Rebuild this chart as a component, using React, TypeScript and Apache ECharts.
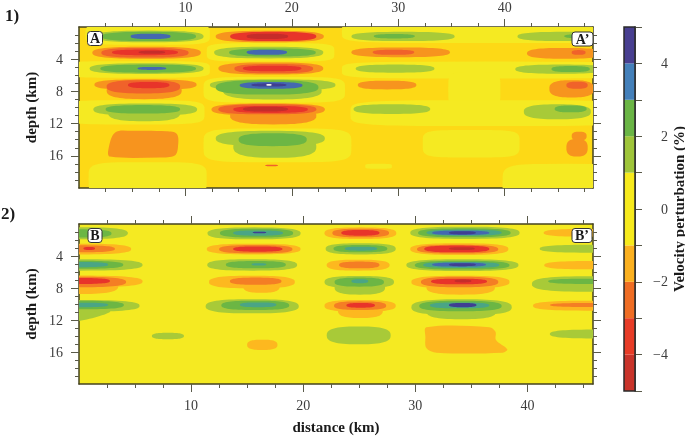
import React, { useEffect, useRef } from "react";
import * as echarts from "echarts";

// colour classes
const DR = 0, RE = 1, DO = 2, MO = 3, OR = 4, LO = 5, YE = 6, GO = 7, LI = 8, GR = 9, TE = 10, BL = 11, PU = 12, WH = 13;
const classColors = ["#c62c2a", "#e8342a", "#f0622a", "#f47e24", "#f7941e", "#fdb81f", "#f5ea22", "#fdd916", "#a8ca38", "#6cb644", "#4aa585", "#4468b0", "#3f3f92", "#f2f2f2"];

const xTicksMajor = [10, 20, 30, 40];
const depthTicksMajor = [4, 8, 12, 16];
const xTicksMinor1 = [2.5, 5, 7.5, 12.5, 15, 17.5, 22.5, 25, 27.5, 32.5, 35, 37.5, 42.5, 45, 47.5];
const xTicksMinor2 = [2.5, 5, 7.5, 12.5, 15, 17.5, 22.5, 25, 27.5, 32.5, 35, 37.5, 42.5, 45];
const depthTicksMinor = [1, 2, 3, 5, 6, 7, 9, 10, 11, 13, 14, 15, 17, 18, 19];
const xMax1 = 48.3;
const xMax2 = 45.85;

// rows: [kmFrom, kmTo, depthFrom, depthTo, class]
const section1Background = [
  [0.6, 12.3, -0.4, 2.2, YE],
  [-1.5, 12.3, 4.25, 6.3, YE],
  [-1.5, 11.8, 9.1, 12.1, YE],
  [0.9, 12, 16.8, 21, YE],
  [12, 24, 2, 4.3, YE],
  [11.7, 25, 6.2, 9.4, YE],
  [11.7, 25.6, 12.6, 16.8, YE],
  [24.7, 52, -0.8, 2.0, YE],
  [24.7, 52, 4.3, 6.4, YE],
  [34.7, 39.6, 5.6, 10, YE],
  [25.5, 52, 9.1, 12.3, YE],
  [32.3, 41.4, 12.8, 16.2, YE],
  [26.9, 29.4, 17, 17.6, YE],
  [39.8, 52, 17, 22, YE],
];
const section1Polygons: { cls: number; pts: number[][] }[] = [
  { cls: OR, pts: [[3.4, 13.1], [5.1, 12.9], [8.2, 12.96], [9.2, 13.3], [9.3, 14.9], [9.0, 15.96], [7.6, 16.2], [2.9, 16.1], [2.75, 15.3]] },
];
const section1Blobs = [
  // first column
  [1.4, 11.7, 0.45, 1.9, LI], [2.1, 11, 0.6, 1.75, GR], [4.85, 8.6, 0.83, 1.5, BL],
  [1.25, 11.45, 2.45, 3.95, OR], [2.1, 10.3, 2.6, 3.8, DO], [3.1, 9.3, 2.8, 3.5, RE], [5.6, 8.1, 2.95, 3.33, DR],
  [1, 11.7, 4.5, 5.83, LI], [2, 11, 4.67, 5.67, GR], [5.5, 8.2, 4.96, 5.33, BL],
  [2.6, 9.65, 6.8, 8.96, OR], [1.45, 11.05, 6.5, 7.83, OR], [2.6, 9.5, 6.6, 8.25, DO], [4.6, 8.5, 6.83, 7.6, RE],
  [2.75, 9.5, 9.7, 11.7, LI], [1.35, 11.1, 9.5, 11, LI], [2.5, 9.5, 9.7, 10.75, GR],
  // second column
  [12.85, 23, 0.46, 1.9, OR], [14.2, 22.3, 0.6, 1.75, RE], [15.75, 19.65, 0.83, 1.5, DR],
  [12.7, 22.95, 2.45, 3.9, LI], [14.1, 22.25, 2.67, 3.67, GR], [15.75, 19.55, 2.83, 3.46, BL],
  [13.1, 22.95, 4.4, 5.9, OR], [14.6, 22, 4.6, 5.75, DO], [15.4, 20.9, 4.8, 5.5, RE],
  [13.55, 22.8, 6.8, 9, LI], [12.3, 24.1, 6.5, 7.9, LI], [12.85, 22.5, 6.6, 8.4, GR], [15.1, 21, 6.83, 7.67, BL], [16.2, 19.5, 7, 7.4, PU], [17.6, 18.1, 7.08, 7.3, WH],
  [14.2, 22.3, 9.9, 12.1, OR], [12.45, 23.1, 9.5, 11, OR], [13.1, 22.3, 9.6, 10.85, DO], [14.5, 21.5, 9.8, 10.67, RE], [15.4, 19.65, 9.9, 10.5, DR],
  [14.5, 22.3, 13.5, 16.25, LI], [12.85, 23.1, 12.9, 14.8, LI], [15, 21.4, 13.2, 14.8, GR],
  [17.5, 18.7, 17.1, 17.3, DO],
  // third column
  [25.6, 35.3, 0.6, 1.75, LI], [27.7, 31.55, 0.87, 1.42, GR],
  [25.6, 34.85, 2.54, 3.75, OR], [27.6, 31.5, 2.83, 3.46, DO],
  [26, 33.4, 4.67, 5.67, LI],
  [26.2, 31.7, 6.67, 7.75, OR],
  [25.8, 33, 9.6, 10.8, LI],
  // fourth column
  [41.2, 50, 0.6, 1.75, LI], [45.6, 50, 0.87, 1.42, GR],
  [42.1, 49.2, 2.6, 3.95, OR], [46.3, 47.6, 2.87, 3.46, DO],
  [41, 49.6, 4.67, 5.8, LI], [44.4, 48, 4.85, 5.6, GR],
  [44.2, 48.4, 6.6, 8.75, OR], [45.8, 47.8, 6.8, 7.67, DO],
  [41.8, 48.1, 9.6, 11.46, LI], [44.7, 47.7, 9.75, 10.6, GR],
  [46.3, 47.7, 13, 14.1, OR], [45.8, 47.8, 13.9, 16.1, OR],
];

const section2Polygons: { cls: number; pts: number[][] }[] = [
  { cls: LI, pts: [[-1, 12.2], [2.8, 10.9], [-1, 10.3]] },
  { cls: LO, pts: [[30.99, 12.9], [36.6, 12.9], [37.15, 13.46], [37.2, 14.5], [38.2, 15.67], [37.8, 16.08], [31.9, 16.08], [31, 15.54], [30.9, 14.08]] },
];
const section2Blobs = [
  // first column
  [-4.35, 4.35, 0.4, 1.9, LI], [-2.9, 2.9, 0.67, 1.7, GR],
  [-4.65, 4.65, 2.46, 3.8, LO], [-3.2, 3.2, 2.67, 3.54, MO], [0.4, 1.43, 2.87, 3.25, RE],
  [-5.67, 5.67, 4.4, 5.83, LI], [-3.95, 3.95, 4.6, 5.6, GR], [-2.6, 2.6, 4.75, 5.4, TE],
  [-3.5, 3.5, 6.8, 8.75, LO], [-5.67, 5.67, 6.45, 7.9, LO], [-4.2, 4.2, 6.6, 7.9, MO], [-2.76, 2.76, 6.75, 7.5, RE],
  [-5.4, 5.4, 9.5, 10.96, LI], [-4, 4, 9.6, 10.67, GR], [-2.6, 2.6, 9.83, 10.4, TE],
  [6.5, 9.36, 13.6, 14.4, LI],
  [15, 17.7, 14.46, 15.75, LO],
  // second column
  [11.47, 19.76, 0.42, 1.92, LI], [12.57, 19.1, 0.58, 1.7, GR], [13.75, 18.2, 0.8, 1.46, TE], [15.5, 16.7, 0.96, 1.17, PU],
  [11.4, 19.76, 2.46, 3.8, LO], [12.5, 19.04, 2.63, 3.67, MO], [13.75, 18.15, 2.8, 3.46, RE],
  [11.44, 19.46, 4.4, 5.83, LI], [13.1, 18.45, 4.63, 5.54, GR], [15.4, 16.7, 4.9, 5.2, TE],
  [14.65, 17.9, 7, 8.6, LO], [11.6, 19.25, 6.46, 8.04, LO], [13.46, 18.06, 6.7, 7.6, MO],
  [11.3, 19.6, 9.4, 11.17, LI], [12.7, 18.75, 9.58, 10.75, GR], [14.35, 17.6, 9.8, 10.4, TE],
  // third column
  [21.9, 28.3, 0.42, 1.87, LO], [22.6, 27.66, 0.58, 1.67, MO], [23.4, 26.8, 0.75, 1.46, RE],
  [22, 28.25, 2.4, 3.8, LI], [22.7, 27.5, 2.63, 3.54, GR], [23.7, 26.6, 2.83, 3.33, TE],
  [22.1, 27.7, 4.46, 5.83, LO], [23.2, 26.8, 4.7, 5.54, MO],
  [22.8, 27.3, 7, 8.83, LI], [21.9, 28.1, 6.5, 8, LI], [22.8, 27.2, 6.7, 7.83, GR], [24.3, 25.8, 6.9, 7.4, TE],
  [23.1, 27.1, 9.9, 11.75, LO], [21.9, 28.25, 9.5, 10.96, LO], [22.75, 27.4, 9.67, 10.75, MO], [23.85, 26.4, 9.87, 10.46, RE],
  [22.1, 27.8, 12.8, 15.04, LI],
  // fourth column
  [29.55, 39.3, 0.33, 1.87, LI], [30.25, 38.5, 0.54, 1.67, GR], [31, 37.7, 0.7, 1.46, TE], [31.5, 36.6, 0.83, 1.37, BL], [33, 35.4, 0.9, 1.3, PU],
  [29.55, 38.3, 2.4, 3.87, LO], [30.15, 37.4, 2.6, 3.7, MO], [30.8, 36.6, 2.7, 3.54, RE], [33, 35.3, 2.9, 3.25, DR],
  [29.2, 39.2, 4.4, 5.87, LI], [29.95, 38.4, 4.6, 5.7, GR], [30.7, 37.5, 4.75, 5.5, TE], [31.5, 36.3, 4.83, 5.33, BL], [33, 35.4, 4.9, 5.27, PU],
  [31, 37.1, 7, 8.83, LO], [29.65, 38.4, 6.46, 8.04, LO], [30.5, 37.4, 6.6, 7.9, MO], [31.4, 36.4, 6.83, 7.54, RE], [33.5, 35, 6.95, 7.3, DR],
  [31, 37.2, 9.9, 11.9, LI], [29.65, 38.6, 9.4, 11.4, LI], [30.35, 37.7, 9.6, 10.9, GR], [31.3, 36.6, 9.8, 10.54, TE], [33, 35.45, 9.87, 10.4, PU],
  // fifth column
  [41.45, 49, 0.62, 1.58, LO],
  [41.1, 50, 2.6, 3.58, LI],
  [41.5, 50, 4.63, 5.67, LO],
  [40.4, 50, 6.54, 8.46, LI], [41.85, 50, 6.83, 7.5, GR],
  [40.5, 50, 9.6, 10.83, LO], [42, 50, 9.87, 10.38, MO],
  [42, 50, 13.2, 14.3, LI],
];

// colour bar: [from, to, colour]
const barBands = [
  [-5, -4, "#c9342b"], [-4, -3, "#e73c27"], [-3, -2, "#ef6d24"], [-2, -1, "#fbb01f"], [-1, 1, "#f7ea1c"],
  [1, 2, "#9fc53a"], [2, 3, "#6ab545"], [3, 4, "#4480ba"], [4, 5, "#483f90"],
];

const SERIF = '"Liberation Serif", "Times New Roman", serif';
const FRAME = "#45431f";
const TICK = "#5a5a4a";

function makeRenderBlob(squareness: number) {
  return (_p: any, api: any) => {
    const a = api.coord([api.value(0), api.value(2)]);
    const b = api.coord([api.value(1), api.value(3)]);
    const cx = (a[0] + b[0]) / 2, cy = (a[1] + b[1]) / 2;
    const rx = Math.abs(b[0] - a[0]) / 2, ry = Math.abs(b[1] - a[1]) / 2;
    const points: number[][] = [];
    const e = 2 / squareness;
    for (let i = 0; i < 64; i++) {
      const t = (i / 64) * Math.PI * 2;
      const c = Math.cos(t), s = Math.sin(t);
      points.push([cx + rx * Math.sign(c) * Math.pow(Math.abs(c), e), cy + ry * Math.sign(s) * Math.pow(Math.abs(s), e)]);
    }
    return { type: "polygon", shape: { points }, style: { fill: classColors[api.value(4)] } };
  };
}

function blobSeries(name: string, rows: number[][], axis: number, z: number, squareness = 2.7) {
  return {
    type: "custom", name, coordinateSystem: "cartesian2d", xAxisIndex: axis, yAxisIndex: axis,
    clip: true, z, silent: true, renderItem: makeRenderBlob(squareness),
    encode: { x: [0, 1], y: [2, 3] }, data: rows,
  };
}

function polySeries(name: string, polys: { cls: number; pts: number[][] }[], axis: number, z: number) {
  return {
    type: "custom", name, coordinateSystem: "cartesian2d", xAxisIndex: axis, yAxisIndex: axis,
    clip: true, z, silent: true,
    renderItem: (_p: any, api: any) => {
      const poly = polys[api.value(2)];
      return {
        type: "polygon",
        shape: { points: poly.pts.map((pt) => api.coord(pt)), smooth: 0.35 },
        style: { fill: classColors[poly.cls] },
      };
    },
    encode: { x: 0, y: 1 },
    data: polys.map((poly, i) => [poly.pts[0][0], poly.pts[0][1], i]),
  };
}

function xAxes(grid: number, max: number, minor: number[], labelPos: "top" | "bottom", name?: string) {
  const base = { gridIndex: grid, type: "value", min: 0, max, splitLine: { show: false }, silent: true };
  const tick = (len: number, values: number[]) => ({ show: true, length: len, customValues: values, lineStyle: { color: TICK, width: 1 } });
  const noLine = { show: false, onZero: false };
  const line = { show: true, onZero: false, lineStyle: { color: FRAME, width: 1.5 } };
  const label = {
    show: true, customValues: xTicksMajor, margin: labelPos === "top" ? 13 : 14,
    fontFamily: SERIF, fontSize: 14, color: "#3d3d3d",
  };
  return [
    { ...base, position: "bottom", axisLine: line, axisTick: tick(4, minor), axisLabel: { show: false } },
    { ...base, position: "top", axisLine: line, axisTick: tick(4, minor), axisLabel: { show: false } },
    {
      ...base, position: "bottom", axisLine: noLine, axisTick: tick(8, xTicksMajor),
      axisLabel: labelPos === "bottom" ? label : { show: false },
      ...(name ? { name, nameLocation: "middle", nameGap: 35, nameTextStyle: { fontFamily: SERIF, fontSize: 15, fontWeight: "bold", color: "#1a1a1a" } } : {}),
    },
    { ...base, position: "top", axisLine: noLine, axisTick: tick(8, xTicksMajor), axisLabel: labelPos === "top" ? label : { show: false } },
  ];
}

function yAxes(grid: number) {
  const base = { gridIndex: grid, type: "value", min: 0, max: 20, inverse: true, splitLine: { show: false }, silent: true };
  const tick = (len: number, values: number[]) => ({ show: true, length: len, customValues: values, lineStyle: { color: TICK, width: 1 } });
  const noLine = { show: false, onZero: false };
  const line = { show: true, onZero: false, lineStyle: { color: FRAME, width: 1.5 } };
  return [
    { ...base, position: "left", axisLine: line, axisTick: tick(4, depthTicksMinor), axisLabel: { show: false } },
    { ...base, position: "right", axisLine: line, axisTick: tick(4, depthTicksMinor), axisLabel: { show: false } },
    {
      ...base, position: "left", axisLine: noLine, axisTick: tick(8, depthTicksMajor),
      axisLabel: { show: true, customValues: depthTicksMajor, margin: 16, fontFamily: SERIF, fontSize: 14, color: "#3d3d3d" },
      name: "depth (km)", nameLocation: "middle", nameGap: 41, nameRotate: 90,
      nameTextStyle: { fontFamily: SERIF, fontSize: 15, fontWeight: "bold", color: "#1a1a1a" },
    },
    { ...base, position: "right", axisLine: noLine, axisTick: tick(8, depthTicksMajor), axisLabel: { show: false } },
  ];
}

function cornerTag(text: string, x: number, y: number, w: number, h: number) {
  return [
    { type: "rect", z: 100, shape: { x, y, width: w, height: h, r: 3 }, style: { fill: "#fff", stroke: "#333", lineWidth: 1 } },
    {
      type: "text", z: 101, x: x + w / 2, y: y + h / 2,
      style: { text, fill: "#1a1a1a", font: `bold 14px ${SERIF}`, align: "center", verticalAlign: "middle" },
    },
  ];
}

function panelTitle(text: string, x: number, y: number) {
  return { type: "text", x, y, style: { text, fill: "#1a1a1a", font: `bold 17px ${SERIF}`, align: "left", verticalAlign: "middle" } };
}

export default function App() {
  const ref = useRef<HTMLDivElement>(null);
  useEffect(() => {
    if (!ref.current) return;
    const chart = echarts.init(ref.current, undefined, { renderer: "svg" });
    const xA = [...xAxes(0, xMax1, xTicksMinor1, "top"), ...xAxes(1, xMax2, xTicksMinor2, "bottom", "distance (km)")];
    const yA = [...yAxes(0), ...yAxes(1)];
    chart.setOption({
      animation: false,
      backgroundColor: "#fff",
      grid: [
        { left: 79, top: 27, width: 514, height: 161, show: true, backgroundColor: classColors[GO], borderWidth: 0, outerBoundsMode: "none" },
        { left: 79, top: 224, width: 514, height: 160, show: true, backgroundColor: classColors[YE], borderWidth: 0, outerBoundsMode: "none" },
        { left: 624, top: 27, width: 11, height: 364, show: true, borderColor: "#2a2a2a", borderWidth: 1.5, z: 10, outerBoundsMode: "none" },
      ],
      xAxis: [
        ...xA,
        { gridIndex: 2, type: "value", min: 0, max: 1, show: false },
      ],
      yAxis: [
        ...yA,
        {
          gridIndex: 2, type: "value", min: -5, max: 5, interval: 1, position: "right", splitLine: { show: false },
          axisLine: { show: true, onZero: false, lineStyle: { color: "#2a2a2a", width: 1.5 } },
          axisTick: { show: true, length: 7, lineStyle: { color: TICK } },
          axisLabel: {
            margin: 33, align: "right", fontFamily: SERIF, fontSize: 14, color: "#3d3d3d",
            formatter: (v: number) => (v % 2 !== 0 ? "" : v < 0 ? `\u2212${-v}` : `${v}`),
          },
          name: "Velocity perturbation (%)", nameLocation: "middle", nameGap: 36, nameRotate: 90, nameMoveOverlap: false,
          nameTextStyle: { fontFamily: SERIF, fontSize: 15, fontWeight: "bold", color: "#1a1a1a" },
        },
      ],
      series: [
        blobSeries("section 1 background", section1Background, 0, 1, 5),
        polySeries("section 1 polygons", section1Polygons, 0, 2),
        blobSeries("section 1", section1Blobs, 0, 3),
        polySeries("section 2 polygons", section2Polygons, 4, 2),
        blobSeries("section 2", section2Blobs, 4, 3),
        {
          type: "custom", name: "colour bar", coordinateSystem: "cartesian2d", xAxisIndex: 8, yAxisIndex: 8, z: 1, silent: true,
          renderItem: (_p: any, api: any) => {
            const a = api.coord([0, api.value(1)]);
            const b = api.coord([1, api.value(0)]);
            return { type: "rect", shape: { x: a[0], y: a[1], width: b[0] - a[0], height: b[1] - a[1] }, style: { fill: barBands[api.value(2)][2] as string } };
          },
          encode: { y: [0, 1] },
          data: barBands.map((b, i) => [b[0], b[1], i]),
        },
      ],
      graphic: [
        panelTitle("1)", 5, 15),
        panelTitle("2)", 1, 213),
        ...cornerTag("A", 87.5, 31.5, 15, 14),
        ...cornerTag("A\u2019", 572, 32, 21, 14),
        ...cornerTag("B", 88, 228.5, 14, 14),
        ...cornerTag("B\u2019", 572, 228.5, 20, 14),
      ],
    });
    return () => chart.dispose();
  }, []);
  return <div ref={ref} style={{ position: "absolute", left: 0, top: 0, width: 685, height: 436, filter: "blur(0.4px)" }} />;
}
